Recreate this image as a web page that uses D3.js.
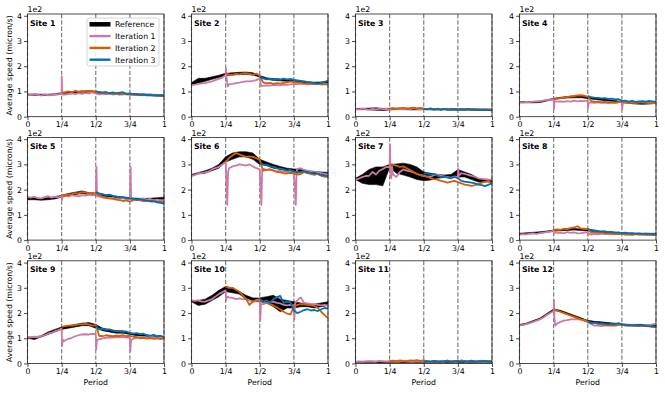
<!DOCTYPE html>
<html>
<head>
<meta charset="utf-8">
<style>
  body { margin: 0; background: #fff; }
  svg { display: block; }
  text { font-family: "DejaVu Sans", sans-serif; }
</style>
</head>
<body>
<svg width="665" height="394"></svg>
<script src="https://d3js.org/d3.v7.min.js"></script>
<script>
var sites = ["Site 1", "Site 2", "Site 3", "Site 4", "Site 5", "Site 6",
             "Site 7", "Site 8", "Site 9", "Site 10", "Site 11", "Site 12"];
var xTicks = [0, 0.25, 0.5, 0.75, 1];
var xTickLabels = ["0", "1/4", "1/2", "3/4", "1"];
var yTicks = [0, 100, 200, 300, 400];
var legendNames = ["Reference", "Iteration 1", "Iteration 2", "Iteration 3"];
var colors = ["#000000", "#CC79A7", "#D55E00", "#0072B2"];

// reference band (micron/s), t = 0, 0.05, ... 1
var refLow = [
  [85,85,84,84,86,90,93,95,97,98,95,92,90,89,88,87,86,85,84,83,82],
  [125,132,140,148,155,163,165,167,168,165,157,148,144,142,140,137,134,131,130,131,134],
  [28,28,27,26,25,27,28,28,27,27,28,27,27,27,26,26,26,26,25,25,25],
  [55,55,55,56,62,68,72,74,75,75,72,68,65,62,59,56,53,50,49,50,54],
  [160,160,158,160,163,170,175,180,185,180,178,174,172,168,165,163,160,159,159,160,162],
  [255,262,265,275,285,310,320,330,330,320,300,295,285,280,275,272,270,265,262,258,255],
  [240,225,220,220,215,288,265,258,250,240,235,238,245,248,250,250,250,240,230,230,230],
  [22,24,26,28,31,35,37,38,40,38,36,33,31,28,26,24,23,22,22,22,22],
  [100,95,105,115,125,135,140,145,150,150,140,130,125,120,120,115,110,108,105,103,100],
  [245,230,235,250,265,285,280,275,255,245,245,240,225,205,220,220,225,225,220,225,230],
  [3,3,3,3,3,3,4,4,4,4,4,3,3,3,3,3,3,3,3,3,3],
  [150,155,165,175,192,210,205,195,185,175,165,162,160,157,155,152,150,150,150,148,146]
];
var refHigh = [
  [90,90,89,89,91,95,98,100,102,103,100,97,95,94,93,92,91,90,89,88,87],
  [135,152,152,158,164,172,174,176,177,174,163,154,151,149,147,145,142,139,137,138,142],
  [33,33,34,35,33,33,34,34,33,33,33,32,32,32,31,31,31,31,30,30,30],
  [60,60,60,62,67,73,77,80,82,83,79,75,72,68,64,60,57,54,53,55,59],
  [170,168,165,168,172,178,185,190,195,188,184,180,178,174,171,168,166,165,166,168,170],
  [260,268,275,285,300,330,345,350,350,345,320,310,300,292,285,282,280,275,272,270,268],
  [245,260,280,290,290,300,302,305,300,290,270,265,260,258,260,280,270,260,245,240,240],
  [27,29,31,33,36,40,42,44,46,44,42,38,35,33,31,29,28,27,27,27,27],
  [105,105,110,125,135,145,150,155,160,162,155,140,135,130,130,122,117,114,111,108,105],
  [250,250,255,270,290,305,300,285,270,260,260,265,270,255,250,245,240,235,235,240,245],
  [8,8,9,9,8,8,9,9,9,9,9,8,8,7,7,7,6,6,6,6,6],
  [155,160,170,180,198,216,211,201,191,181,171,167,165,162,160,157,155,155,155,153,151]
];

// iteration 1, t = 0, 0.025, ... 1
var iter1 = [
  [88,86,90,87,84,88,85,86,89,88,92,88,90,92,89,93,90,94,92,96,92,88,91,89,92,88,90,87,91,88,90,86,89,85,88,84,87,85,86,84,85],
  [125,127,130,132,133,137,140,145,150,155,165,128,130,133,135,138,140,140,142,145,153,122,124,123,126,125,124,127,126,128,130,129,131,130,128,131,129,130,128,130,129],
  [31,29,32,30,28,31,29,32,30,31,29,32,30,31,29,32,30,33,31,29,32,30,31,28,31,29,30,32,29,31,28,30,29,31,28,30,29,27,30,28,29],
  [58,57,59,58,60,61,62,64,66,68,70,60,61,59,62,60,64,61,63,62,64,56,55,57,55,56,54,56,55,57,60,56,57,58,56,59,57,58,56,58,57],
  [170,168,172,166,165,170,174,168,172,169,175,176,172,178,175,173,178,176,180,178,180,172,168,166,165,167,162,165,166,162,160,162,158,163,165,160,163,158,160,157,158],
  [255,258,265,266,268,272,280,285,290,300,310,285,292,295,300,298,295,300,292,285,280,282,278,280,276,272,274,270,272,268,265,282,285,278,275,272,270,268,265,262,260],
  [240,244,250,254,255,270,260,275,282,290,288,260,250,270,280,275,272,268,262,258,255,252,250,258,260,256,252,250,248,252,250,265,262,258,255,250,245,243,242,240,240],
  [22,24,23,26,27,25,28,30,32,34,38,28,30,27,32,29,31,27,28,30,32,22,25,23,26,24,25,23,24,26,25,23,24,22,25,23,24,22,23,22,23],
  [105,104,106,105,108,112,118,122,128,132,138,92,98,102,108,112,115,116,115,117,116,96,100,102,104,103,105,104,106,103,102,98,102,104,105,103,105,104,102,103,100],
  [250,248,250,245,245,250,255,265,275,282,290,262,260,255,258,255,255,250,245,248,250,235,240,242,245,240,238,232,230,232,230,250,262,240,238,235,235,232,230,232,230],
  [7,8,7,8,9,8,7,10,9,8,9,8,9,8,10,9,8,7,9,8,9,8,7,8,9,8,7,9,8,7,8,9,7,8,9,8,7,8,7,8,7],
  [152,153,156,160,165,170,175,182,192,200,208,158,165,170,172,175,175,176,174,172,165,155,150,150,148,150,150,152,155,155,158,152,150,152,150,148,150,152,150,155,158]
];
// short spikes of iteration 1 next to the quarter marks: [t, value]
var iter1Spikes = [
  [[0.2505,160],[0.254,88]],
  [[0.2525,190],[0.258,150],[0.265,120],[0.503,150],[0.508,122]],
  [],
  [[0.2525,30],[0.256,62],[0.5025,33],[0.507,56],[0.7525,30],[0.757,55]],
  [[0.2525,158],[0.256,172],[0.5055,290],[0.509,175],[0.7555,290],[0.759,165]],
  [[0.255,250],[0.262,140],[0.268,270],[0.506,200],[0.512,140],[0.518,280],[0.756,220],[0.764,140],[0.77,270]],
  [[0.2525,380],[0.257,255],[0.262,245],[0.268,290],[0.7525,285],[0.757,255]],
  [[0.2525,25],[0.258,32],[0.5025,18],[0.507,26]],
  [[0.2535,70],[0.258,95],[0.265,88],[0.5035,55],[0.508,90],[0.515,95],[0.7535,48],[0.758,90],[0.765,95]],
  [[0.2535,250],[0.258,265],[0.5035,170],[0.509,235],[0.7535,175],[0.76,240]],
  [],
  [[0.2525,250],[0.256,180],[0.262,150]]
];
// iteration 2, t = 0.25, 0.275, ... 1
var iter2 = [
  [95,97,100,96,103,98,101,97,99,102,98,93,95,91,93,89,92,90,88,91,87,89,86,88,85,87,84,86,84,85,83],
  [172,168,166,170,168,172,173,170,166,171,162,136,132,134,130,133,131,134,136,140,138,136,134,132,130,131,129,130,128,129,128],
  [32,34,31,33,35,32,34,36,33,35,32,30,33,29,32,30,31,28,32,29,31,28,30,27,31,28,30,27,29,28,27],
  [70,72,74,76,78,80,82,84,85,83,80,62,60,59,58,59,57,58,56,58,60,57,55,56,54,56,58,55,54,53,55],
  [175,178,180,182,186,185,190,188,185,187,185,180,172,168,165,163,160,158,155,157,152,158,160,157,155,156,153,155,152,151,150],
  [310,325,335,345,340,335,330,332,330,325,318,275,278,280,275,270,268,265,264,266,263,260,262,270,265,262,258,262,255,252,250],
  [300,298,295,290,292,285,278,270,262,258,255,250,245,242,240,235,232,228,232,235,230,225,220,218,215,218,222,228,232,235,222],
  [40,42,41,45,44,47,50,55,46,45,44,30,32,29,31,28,27,26,25,24,25,22,23,21,24,22,23,21,22,20,21],
  [145,148,150,150,152,155,155,157,155,150,152,110,108,112,110,108,110,109,112,108,110,106,104,100,102,99,101,98,100,97,100],
  [305,300,300,292,285,270,255,232,245,252,255,245,240,235,230,222,215,205,198,195,225,232,235,234,232,230,228,220,205,192,180],
  [9,11,8,12,10,9,12,11,13,10,12,9,8,10,7,9,8,11,9,10,8,12,9,7,10,8,9,11,8,10,9],
  [215,210,205,200,195,190,185,180,175,170,165,162,160,158,155,153,152,150,150,152,155,150,150,152,150,148,150,148,147,145,145]
];
// iteration 3, t = 0.5, 0.525, ... 1
var iter3 = [
  [100,97,95,98,93,96,92,95,97,90,92,89,90,86,88,85,87,84,85,83,84],
  [158,152,148,150,146,150,147,151,148,150,146,144,142,140,137,135,133,131,134,137,142],
  [31,29,32,28,30,27,31,29,28,31,27,30,28,31,27,29,26,28,27,26,25],
  [82,78,76,75,73,74,71,72,69,70,62,64,60,63,59,61,62,60,63,61,60],
  [190,185,182,178,180,175,172,168,170,166,165,163,160,162,158,156,155,153,150,148,145],
  [305,300,298,292,290,285,283,280,275,278,272,268,270,273,268,265,268,262,258,256,252],
  [262,265,258,262,255,250,252,248,245,250,245,235,232,230,228,225,220,218,214,220,225],
  [45,40,38,36,34,35,32,33,30,31,28,30,27,28,26,27,25,26,25,24,25],
  [150,135,138,133,135,130,128,126,125,127,120,118,120,116,118,112,110,114,108,110,105],
  [250,245,250,240,255,262,268,240,245,242,210,200,205,212,215,210,212,208,215,220,218],
  [7,9,6,10,8,7,9,11,6,8,10,7,9,8,11,7,9,8,10,7,8],
  [165,160,162,158,160,157,155,157,155,160,155,152,152,150,150,152,150,148,148,146,145]
];

var svg = d3.select("svg"),
    panelW = 136.5,
    panelH = 102.7,
    fs = 7.8;

var x = d3.scaleLinear().domain([0, 1]).range([0, panelW]),
    y = d3.scaleLinear().domain([0, 407]).range([panelH, 0]);

var area = d3.area()
    .x(function (d) { return x(d[0]); })
    .y0(function (d) { return y(d[1]); })
    .y1(function (d) { return y(d[2]); });

var line = d3.line()
    .x(function (d) { return x(d[0]); })
    .y(function (d) { return y(d[1]); });

sites.forEach(function (name, i) {
    var col = i % 4, row = Math.floor(i / 4);
    var g = svg.append("g")
        .attr("transform", "translate(" + (27.5 + col * 164) + "," + (14 + row * 123.4) + ")");

    // quarter marks
    g.selectAll(".vline")
        .data(xTicks)
        .enter().append("line")
        .attr("x1", function (d) { return x(d); })
        .attr("x2", function (d) { return x(d); })
        .attr("y1", 0).attr("y2", panelH)
        .attr("stroke", "#808080")
        .attr("stroke-width", 1.2)
        .attr("stroke-dasharray", "4.4,1.9");

    var band = refLow[i].map(function (v, k) { return [k / 20, v, refHigh[i][k]]; });
    g.append("path")
        .attr("d", area(band))
        .attr("fill", colors[0])
        .attr("stroke", colors[0])
        .attr("stroke-width", 0.6);

    var p1 = iter1[i].map(function (v, k) { return [k / 40, v]; })
        .concat(iter1Spikes[i])
        .sort(function (a, b) { return a[0] - b[0]; });
    var p2 = iter2[i].map(function (v, k) { return [0.25 + k / 40, v]; });
    var p3 = iter3[i].map(function (v, k) { return [0.5 + k / 40, v]; });

    [p1, p2, p3].forEach(function (pts, s) {
        g.append("path")
            .attr("d", line(pts))
            .attr("fill", "none")
            .attr("stroke", colors[s + 1])
            .attr("stroke-width", 1.8)
            .attr("stroke-linejoin", "round");
    });

    // frame
    g.append("rect")
        .attr("width", panelW).attr("height", panelH)
        .attr("fill", "none")
        .attr("stroke", "#222")
        .attr("stroke-width", 0.8);

    var xa = g.append("g")
        .attr("transform", "translate(0," + panelH + ")")
        .call(d3.axisBottom(x).tickValues(xTicks)
            .tickFormat(function (d, k) { return xTickLabels[k]; })
            .tickSize(3.5).tickPadding(1.5));
    var ya = g.append("g")
        .call(d3.axisLeft(y).tickValues(yTicks)
            .tickFormat(function (d) { return d / 100; })
            .tickSize(3.5).tickPadding(2));
    [xa, ya].forEach(function (a) {
        a.select(".domain").remove();
        a.selectAll("text").attr("font-size", fs).attr("font-family", "DejaVu Sans").attr("fill", "#000");
        a.selectAll("line").attr("stroke", "#222").attr("stroke-width", 0.8);
    });

    g.append("text")
        .attr("x", 0).attr("y", -1.8)
        .attr("font-size", fs)
        .text("1e2");

    g.append("text")
        .attr("x", 2.5).attr("y", 11.5)
        .attr("font-size", fs)
        .attr("font-weight", "bold")
        .text(name);

    if (row === 2) {
        g.append("text")
            .attr("x", panelW / 2).attr("y", panelH + 22)
            .attr("text-anchor", "middle")
            .attr("font-size", fs)
            .text("Period");
    }
    if (col === 0) {
        g.append("text")
            .attr("transform", "translate(-15.5," + (panelH / 2) + ") rotate(-90)")
            .attr("text-anchor", "middle")
            .attr("font-size", fs)
            .text("Average speed (micron/s)");
    }

    if (i === 0) {
        var lg = g.append("g").attr("transform", "translate(59.5,4)");
        lg.append("rect")
            .attr("width", 72).attr("height", 48)
            .attr("rx", 2)
            .attr("fill", "#fff").attr("fill-opacity", 0.8)
            .attr("stroke", "#ccc").attr("stroke-width", 0.8);
        legendNames.forEach(function (n, k) {
            var yy = 6.3 + k * 11.8;
            lg.append("line")
                .attr("x1", 2.5).attr("x2", 23.5)
                .attr("y1", yy).attr("y2", yy)
                .attr("stroke", colors[k])
                .attr("stroke-width", k === 0 ? 4.5 : 2.4);
            lg.append("text")
                .attr("x", 28).attr("y", yy + 2.8)
                .attr("font-size", fs)
                .text(n);
        });
    }
});
</script>
</body>
</html>
